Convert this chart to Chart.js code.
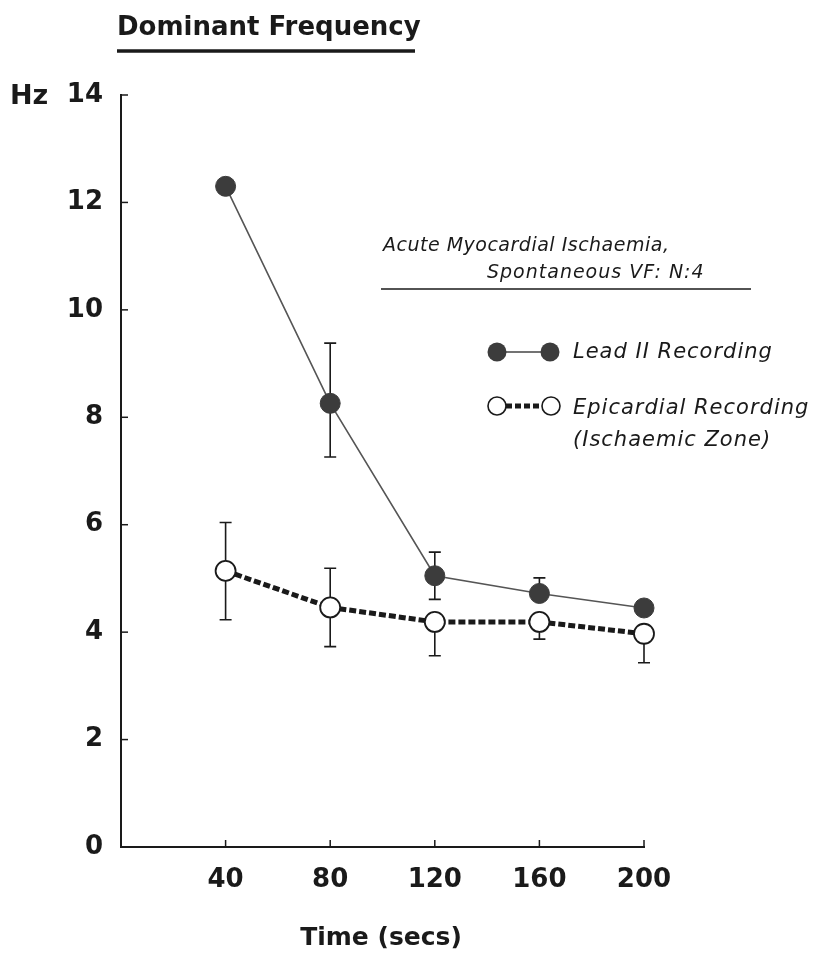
<!DOCTYPE html>
<html>
<head>
<meta charset="utf-8">
<script src="https://cdn.jsdelivr.net/npm/chart.js@4/dist/chart.umd.min.js"></script>
<style>
  body { margin: 0; background: #fff; }
  #wrap { width: 814px; height: 957px; position: relative; }
</style>
</head>
<body>
<div id="wrap"><canvas id="freqChart"></canvas></div>
<script>
// Số liệu
const timeSecs = [40, 80, 120, 160, 200];
const leadII = [12.3, 8.26, 5.05, 4.72, 4.45];
const leadIIUpper = [null, 9.38, 5.49, 5.01, null];
const leadIILower = [null, 7.26, 4.61, null, null];
const epicardial = [5.14, 4.46, 4.19, 4.19, 3.97];
const epiUpper = [6.04, 5.19, null, null, null];
const epiLower = [4.23, 3.73, 3.56, 3.87, 3.43];
const yTickStep = 2;
const xTickStep = 40;

const INK = '#1a1a1a';
const DOT = '#3c3c3c';
const noteFont = "italic 19px 'DejaVu Sans'";
const legendFont = "italic 21px 'DejaVu Sans'";

// Thanh sai số vẽ dưới điểm
const errorBars = {
    id: 'errorBars',
    beforeDatasetsDraw(chart) {
        const ctx = chart.ctx;
        const x = chart.scales.x, y = chart.scales.y;
        const sets = [[leadIIUpper, leadIILower], [epiUpper, epiLower]];
        ctx.save();
        ctx.strokeStyle = INK;
        ctx.lineWidth = 1.6;
        sets.forEach(([up, lo], d) => {
            const vals = d === 0 ? leadII : epicardial;
            timeSecs.forEach((t, i) => {
                const px = x.getPixelForValue(t);
                const py = y.getPixelForValue(vals[i]);
                [up[i], lo[i]].forEach(v => {
                    if (v == null) return;
                    const ey = y.getPixelForValue(v);
                    ctx.beginPath();
                    ctx.moveTo(px, py);
                    ctx.lineTo(px, ey);
                    ctx.moveTo(px - 6, ey);
                    ctx.lineTo(px + 6, ey);
                    ctx.stroke();
                });
            });
        });
        ctx.restore();
    }
};

// Vạch chia hướng vào trong, tiêu đề, chú thích
const decorations = {
    id: 'decorations',
    afterDraw(chart) {
        const ctx = chart.ctx;
        const x = chart.scales.x, y = chart.scales.y;
        const area = chart.chartArea;
        ctx.save();
        ctx.strokeStyle = INK;
        ctx.lineWidth = 1.5;
        for (let v = yTickStep; v <= 14; v += yTickStep) {
            const py = y.getPixelForValue(v);
            ctx.beginPath(); ctx.moveTo(area.left, py); ctx.lineTo(area.left + 7, py); ctx.stroke();
        }
        timeSecs.forEach(t => {
            const px = x.getPixelForValue(t);
            ctx.beginPath(); ctx.moveTo(px, area.bottom); ctx.lineTo(px, area.bottom - 7); ctx.stroke();
        });

        ctx.fillStyle = INK;
        ctx.textBaseline = 'middle';
        ctx.font = "bold 26px 'DejaVu Sans'";
        ctx.textAlign = 'left';
        ctx.letterSpacing = '0px';
        ctx.fillText('Dominant Frequency', 117, 28);
        ctx.lineWidth = 3.5;
        ctx.beginPath(); ctx.moveTo(117, 51); ctx.lineTo(415, 51); ctx.stroke();

        ctx.font = "bold 27px 'DejaVu Sans'";
        ctx.fillText('Hz', 10, 97);
        ctx.textAlign = 'center';
        ctx.font = "bold 25px 'DejaVu Sans'";
        ctx.fillText('Time (secs)', 381, 938);

        ctx.font = noteFont;
        ctx.textAlign = 'left';
        ctx.letterSpacing = '0.5px';
        ctx.fillText('Acute Myocardial Ischaemia,', 383, 246);
        ctx.letterSpacing = '1px';
        ctx.fillText('Spontaneous VF: N:4', 487, 273);
        ctx.lineWidth = 1.6;
        ctx.beginPath(); ctx.moveTo(381, 289); ctx.lineTo(751, 289); ctx.stroke();

        // chú giải
        ctx.strokeStyle = '#444';
        ctx.lineWidth = 1.6;
        ctx.beginPath(); ctx.moveTo(497, 352); ctx.lineTo(550, 352); ctx.stroke();
        ctx.fillStyle = DOT;
        [497, 550].forEach(cx => { ctx.beginPath(); ctx.arc(cx, 352, 9.5, 0, Math.PI * 2); ctx.fill(); });

        ctx.strokeStyle = INK;
        ctx.lineWidth = 5;
        ctx.setLineDash([6, 3]);
        ctx.beginPath(); ctx.moveTo(497, 406); ctx.lineTo(551, 406); ctx.stroke();
        ctx.setLineDash([]);
        ctx.lineWidth = 1.6;
        [497, 551].forEach(cx => {
            ctx.beginPath(); ctx.arc(cx, 406, 9, 0, Math.PI * 2);
            ctx.fillStyle = '#fff'; ctx.fill(); ctx.stroke();
        });

        ctx.fillStyle = INK;
        ctx.font = legendFont;
        ctx.letterSpacing = '1px';
        ctx.fillText('Lead II Recording', 573, 353);
        ctx.fillText('Epicardial Recording', 573, 409);
        ctx.fillText('(Ischaemic Zone)', 573, 441);
        ctx.restore();
    }
};

const ctx = document.getElementById('freqChart').getContext('2d');
new Chart(ctx, {
    type: 'line',
    data: {
        datasets: [{
            label: 'Lead II Recording',
            data: timeSecs.map((t, i) => ({ x: t, y: leadII[i] })),
            borderColor: '#555',
            borderWidth: 1.6,
            pointRadius: 10,
            pointBackgroundColor: DOT,
            pointBorderColor: DOT,
            pointBorderWidth: 1,
            clip: false
        }, {
            label: 'Epicardial Recording (Ischaemic Zone)',
            data: timeSecs.map((t, i) => ({ x: t, y: epicardial[i] })),
            borderColor: INK,
            borderWidth: 5,
            borderDash: [7, 3],
            pointRadius: 10,
            pointBackgroundColor: '#fff',
            pointBorderColor: INK,
            pointBorderWidth: 1.8,
            clip: false
        }]
    },
    options: {
        responsive: true,
        maintainAspectRatio: false,
        animation: false,
        layout: { padding: { top: 95, right: 170, left: 0, bottom: 0 } },
        plugins: {
            legend: { display: false },
            tooltip: { enabled: false }
        },
        scales: {
            x: {
                type: 'linear',
                min: 0,
                max: 200,
                afterFit: s => { s.height = 110; },
                grid: { display: false },
                border: { color: INK, width: 2 },
                ticks: {
                    stepSize: xTickStep,
                    color: INK,
                    padding: 10,
                    font: { family: 'DejaVu Sans', size: 26, weight: 'bold' },
                    callback: v => (v === 0 ? '' : v)
                }
            },
            y: {
                min: 0,
                max: 14,
                afterFit: s => { s.width = 121; },
                grid: { display: false },
                border: { color: INK, width: 2 },
                ticks: {
                    stepSize: yTickStep,
                    color: INK,
                    padding: 10,
                    font: { family: 'DejaVu Sans', size: 26, weight: 'bold' }
                }
            }
        }
    },
    plugins: [errorBars, decorations]
});
</script>
</body>
</html>
